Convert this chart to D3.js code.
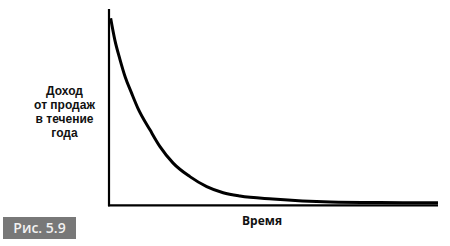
<!DOCTYPE html>
<html>
<head>
<meta charset="utf-8">
<script src="https://cdn.jsdelivr.net/npm/d3@7"></script>
<style>
  html, body { margin: 0; padding: 0; background: #fff; }
  svg { display: block; }
  text { font-family: "Open Sans", "Noto Sans", sans-serif; }
</style>
</head>
<body>
<svg id="chart" width="450" height="246"></svg>
<script>
// Data (time 0..100, revenue 0..100, arbitrary units)
const timeValues    = [0.5, 1.8, 3.3, 4.9, 6.9, 8.8, 12.5, 15.5, 19.5, 24.6, 29.7, 34.7, 39.8, 49.8, 67.2, 82.4, 100];
const revenueValues = [95.3, 84, 74.5, 65.5, 57, 49.4, 38.3, 29.9, 21.5, 14.6, 9.5, 6.4, 4.7, 3.2, 1.7, 1.4, 1.3];
const yAxisLabelLines = ["Доход", "от продаж", "в течение", "года"];
const xAxisLabel = "Время";
const figureLabel = "Рис. 5.9";

const svg = d3.select("#chart");
const x = d3.scaleLinear().domain([0, 100]).range([109, 438]);
const y = d3.scaleLinear().domain([0, 100]).range([205.3, 9]);

const points = timeValues.map((t, i) => [t, revenueValues[i]]);

// Axes (plain lines, no ticks)
svg.append("line")
  .attr("x1", x(0)).attr("x2", x(0))
  .attr("y1", y(100)).attr("y2", y(0) + 1)
  .attr("stroke", "#000").attr("stroke-width", 2.2);
svg.append("line")
  .attr("x1", x(0) - 1).attr("x2", x(100))
  .attr("y1", y(0)).attr("y2", y(0))
  .attr("stroke", "#000").attr("stroke-width", 2.2);

// Curve
const line = d3.line()
  .x(d => x(d[0]))
  .y(d => y(d[1]))
  .curve(d3.curveMonotoneX);
svg.append("path")
  .datum(points)
  .attr("d", line)
  .attr("fill", "none")
  .attr("stroke", "#000")
  .attr("stroke-width", 3);

// Y axis label (one text per line)
svg.append("g")
  .selectAll("text")
  .data(yAxisLabelLines)
  .join("text")
  .attr("x", 64.5)
  .attr("y", (d, i) => 95 + i * 14)
  .attr("text-anchor", "middle")
  .style("font-family", "'Liberation Sans', Arial, sans-serif")
  .attr("font-size", 12)
  .attr("font-weight", "bold")
  .attr("fill", "#111")
  .text(d => d);

// X axis label
svg.append("text")
  .attr("x", 262).attr("y", 225)
  .attr("text-anchor", "middle")
  .attr("font-size", 12)
  .attr("font-weight", "bold")
  .attr("fill", "#111")
  .text(xAxisLabel);

// Figure badge
svg.append("rect")
  .attr("x", 3).attr("y", 217).attr("width", 73).attr("height", 22)
  .attr("fill", "#787878");
svg.append("text")
  .attr("x", 39.5).attr("y", 233)
  .attr("text-anchor", "middle")
  .attr("font-size", 14)
  .attr("font-weight", 600)
  .attr("fill", "#f2f2f2")
  .text(figureLabel);
</script>
</body>
</html>
